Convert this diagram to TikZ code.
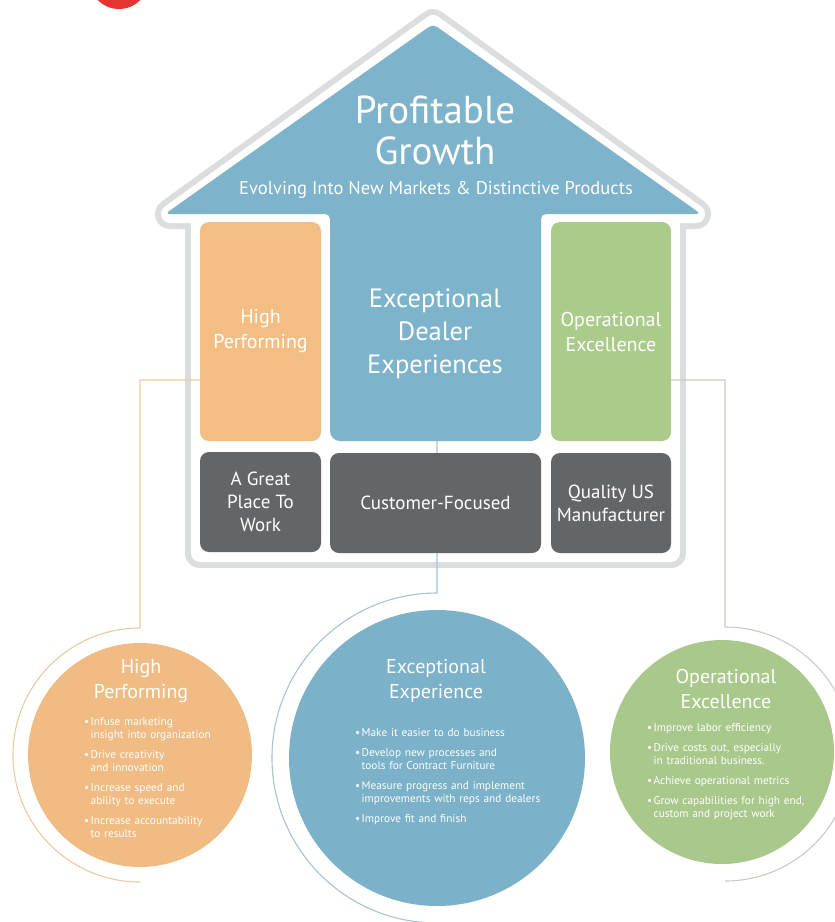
\documentclass[tikz,border=0pt]{standalone}
\usepackage{fontspec}
\setmainfont{PT Sans}
\usetikzlibrary{calc}

\definecolor{roofBlue}{HTML}{7DB3CB}
\definecolor{pillarOrange}{HTML}{F3BE84}
\definecolor{pillarGreen}{HTML}{AACB8A}
\definecolor{baseGray}{HTML}{646567}
\definecolor{outlineGray}{HTML}{DCDDDE}
\definecolor{discBlue}{HTML}{7BB1C9}
\definecolor{discOrange}{HTML}{F0BC83}
\definecolor{discGreen}{HTML}{A9C98C}
\definecolor{linkOrange}{HTML}{EBCB9F}
\definecolor{linkBlue}{HTML}{A8C3D1}
\definecolor{linkGreen}{HTML}{C8CDC2}
\definecolor{markRed}{HTML}{E53530}

% one bullet point with a hanging indent
\newcommand\dotitem[1]{\par\hangindent=6.5pt\hangafter=1\noindent\makebox[6.5pt][l]{\textbullet}#1\par\vspace{7pt}}

\tikzset{
  pillar/.style={rounded corners=9pt, minimum width=121pt, minimum height=219pt,
    inner sep=0pt, text=white, align=center, font=\fontsize{20}{25}\selectfont},
  basebox/.style={rounded corners=9pt, fill=baseGray, minimum height=100pt,
    inner sep=0pt, text=white, align=center, font=\fontsize{19}{23}\selectfont},
  disc/.style={circle, inner sep=0pt},
  head/.style={text=white, align=center, font=\fontsize{20}{25}\selectfont},
  bullets/.style={text=white, align=left, inner sep=0pt, text width=200pt,
    anchor=north west, font=\fontsize{11.3}{13}\selectfont},
  link/.style={line width=1.1pt},
}

\begin{document}
\begin{tikzpicture}[x=1pt,y=-1pt]
\useasboundingbox (0,0) rectangle (835,922);
\fill[white] (0,0) rectangle (835,922);

% red badge cut by the top edge
\node[disc, fill=markRed, minimum size=60pt] (badge) at (119,-21) {};

% house outline: grey band around roof and body
\path[fill=outlineGray, draw=outlineGray, line width=30pt, line join=round]
  (170,214) -- (433,24) -- (696,214) -- cycle;
\path[fill=outlineGray, draw=outlineGray, line width=30pt, line join=round]
  (200,214) rectangle (671,553);
\path[fill=white, draw=white, line width=18pt, line join=round]
  (170,214) -- (433,24) -- (696,214) -- cycle;
\path[fill=white, draw=white, line width=18pt, line join=round]
  (200,214) rectangle (671,553);

% roof and central column
\fill[roofBlue] [rounded corners=5pt] (433,24) -- (701,214) -- (541,214)
  [rounded corners=10pt] -- (541,441) -- (330,441)
  [rounded corners=5pt] -- (330,214) -- (165,214) -- cycle;

\node[text=white, align=center, font=\fontsize{39}{41}\selectfont] (pgTitle) at (435,130) {Profitable\\Growth};
\node[text=white, font=\fontsize{18.5}{20}\selectfont] (pgSub) at (436,190) {Evolving Into New Markets \& Distinctive Products};
\node[text=white, align=center, font=\fontsize{26.5}{33}\selectfont] (edlText) at (435,334) {Exceptional\\Dealer\\Experiences};

% anchor points of the connectors
\coordinate (colFoot) at (437,441);
\coordinate (hpTop) at (140,628);
\coordinate (eeTop) at (437,593);
\coordinate (oeTop) at (725,627);

% centre connector runs behind the base boxes
\draw[link, linkBlue] (colFoot) -- (eeTop) arc[start angle=270, end angle=93, radius=165];

% pillars and base
\node[pillar, fill=pillarOrange] (hpBox) at (260.5,331.5) {High\\Performing};
\node[pillar, fill=pillarGreen, minimum width=120pt] (oeBox) at (611,331.5) {Operational\\Excellence};
\node[basebox, minimum width=121pt] (gpBox) at (260.5,502) {A Great\\Place To\\Work};
\node[basebox, minimum width=211pt] (cfBox) at (435.5,503) {Customer-Focused};
\node[basebox, minimum width=120pt] (qmBox) at (611,503) {Quality US\\Manufacturer};

% side connectors
\draw[link, linkOrange] (hpBox.west |- 0,380) -| (hpTop) arc[start angle=270, end angle=90, radius=127];
\draw[link, linkGreen] (oeBox.east |- 0,380) -| (oeTop) arc[start angle=-90, end angle=90, radius=127];

% detail discs
\node[disc, fill=discOrange, minimum size=224pt] (hpDisc) at (140,755) {};
\node[head] (hpHead) at (141,681) {High\\Performing};
\node[bullets] (hpList) at (84,712) {%
  \dotitem{Infuse marketing\newline insight into organization}
  \dotitem{Drive creativity\newline and innovation}
  \dotitem{Increase speed and\newline ability to execute}
  \dotitem{Increase accountability\newline to results}};

\node[disc, fill=discBlue, minimum size=296pt] (eeDisc) at (437,758) {};
\node[head] (eeHead) at (436,681) {Exceptional\\Experience};
\node[bullets] (eeList) at (355,723) {%
  \dotitem{Make it easier to do business}
  \dotitem{Develop new processes and\newline tools for Contract Furniture}
  \dotitem{Measure progress and implement\newline improvements with reps and dealers}
  \dotitem{Improve fit and finish}};

\node[disc, fill=discGreen, minimum size=224pt] (oeDisc) at (722,752) {};
\node[head] (oeHead) at (726,689) {Operational\\Excellence};
\node[bullets] (oeList) at (647,718) {%
  \dotitem{Improve labor efficiency}
  \dotitem{Drive costs out, especially\newline in traditional business.}
  \dotitem{Achieve operational metrics}
  \dotitem{Grow capabilities for high end,\newline custom and project work}};
\end{tikzpicture}
\end{document}
